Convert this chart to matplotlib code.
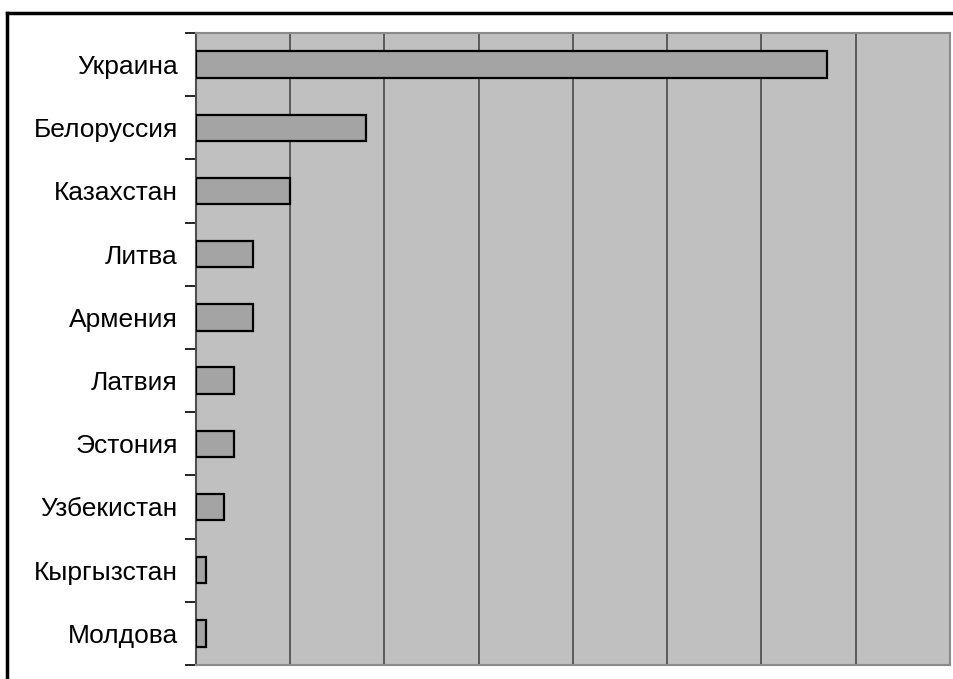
import matplotlib
matplotlib.use("Agg")
import matplotlib.pyplot as plt
from matplotlib.lines import Line2D
import numpy as np

countries = ["Украина", "Белоруссия", "Казахстан", "Литва", "Армения",
             "Латвия", "Эстония", "Узбекистан", "Кыргызстан", "Молдова"]
values = [67, 18, 10, 6, 6, 4, 4, 3, 1.1, 1.1]
x_max = 80
x_step = 10

plt.rcParams['font.family'] = ['Liberation Sans', 'DejaVu Sans']

fig = plt.figure(figsize=(9.54, 6.79), dpi=100)
ax = fig.add_axes([196 / 954, 1 - 665 / 679, (950 - 196) / 954, (665 - 33) / 679])
ax.set_facecolor('#c0c0c0')

y = np.arange(len(countries))
ax.barh(y, values, height=0.42, color='#a4a4a4', edgecolor='black', linewidth=1.6, zorder=3)

ax.set_xlim(0, x_max)
ax.set_ylim(len(countries) - 0.5, -0.5)
ax.set_xticks(np.arange(x_step, x_max, x_step))
ax.tick_params(axis='x', length=0, labelbottom=False)
ax.grid(axis='x', color='#484848', linewidth=1.2, zorder=1)

ax.set_yticks(y)
ax.set_yticklabels(countries, fontsize=19)
ax.tick_params(axis='y', which='major', length=0, pad=13)
ax.set_yticks(np.arange(-0.5, len(countries)), minor=True)
ax.tick_params(axis='y', which='minor', length=8, width=1.2, color='black')

for side in ['top', 'right', 'bottom']:
    ax.spines[side].set_color('#8a8a8a')
    ax.spines[side].set_linewidth(1.5)
ax.spines['left'].set_color('#505050')
ax.spines['left'].set_linewidth(1.5)

fig.add_artist(Line2D([7 / 954, 1.0], [1 - 13 / 679, 1 - 13 / 679], color='black', linewidth=2.5))
fig.add_artist(Line2D([7 / 954, 7 / 954], [0, 1 - 13 / 679], color='black', linewidth=2.5))

fig.savefig("out.png", dpi=100)
